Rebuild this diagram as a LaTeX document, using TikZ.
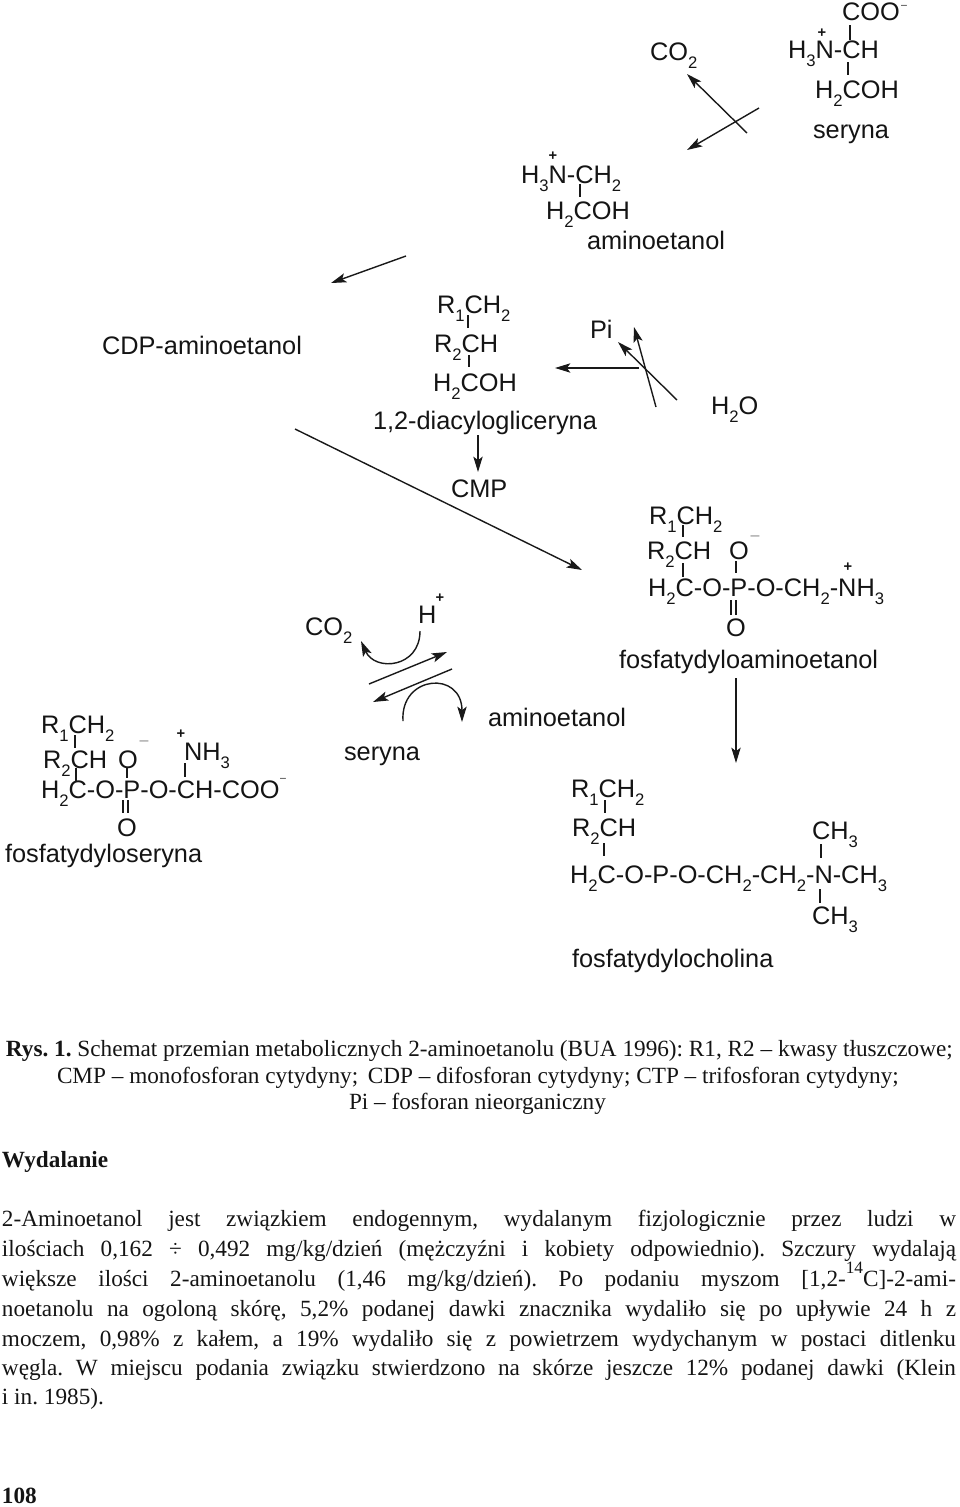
\documentclass[tikz,border=0pt]{standalone}
\usepackage{fontspec}
\setmainfont{Liberation Serif}
\newfontfamily\chemfont{Liberation Sans}
\usetikzlibrary{arrows.meta}
\newcommand{\sbb}[1]{\raisebox{-6.3pt}{\fontsize{12.5}{14}\selectfont #1}}
\newcommand{\sups}[1]{\raisebox{0.55em}{\fontsize{13}{14}\selectfont #1}}
\newcommand{\fullw}[1]{\makebox[715.5pt][s]{#1}}
\frenchspacing
\tikzset{
  x=0.75pt,y=-0.75pt,
  chem/.style={anchor=base west,inner sep=0pt,outer sep=0pt,text=black!92,font=\chemfont\fontsize{19}{22}\selectfont},
  body/.style={anchor=base west,inner sep=0pt,outer sep=0pt,text=black!92,font=\fontsize{17.42}{20}\selectfont},
  bodyb/.style={body,font=\fontsize{17.42}{20}\selectfont\bfseries},
  plus/.style={inner sep=0pt,outer sep=0pt,text=black!92,font=\chemfont\fontsize{11}{12}\selectfont\bfseries},
  minus/.style={inner sep=0pt,outer sep=0pt,text=black!85,font=\chemfont\fontsize{8}{9}\selectfont},
  minusg/.style={inner sep=0pt,outer sep=0pt,text=black!45,font=\chemfont\fontsize{12}{12}\selectfont},
  bond/.style={draw=black!90,line width=1pt},
  arr/.style={draw=black!90,line width=1.05pt,-{Stealth[length=11.5pt,width=7pt,inset=2.6pt]}},
}
\newcommand{\bnd}[5]{\coordinate (#1a) at (#2,#3);\coordinate (#1b) at (#4,#5);\draw[bond] (#1a) -- (#1b);}
\newcommand{\arw}[5]{\coordinate (#1a) at (#2,#3);\coordinate (#1b) at (#4,#5);\draw[arr] (#1a) -- (#1b);}
\begin{document}
\begin{tikzpicture}
\useasboundingbox (0,0) rectangle (960,1507);
% seryna top
\node[chem] (sCOO) at (842,20) {COO};
\node[minus] (sCOOm) at (904,7) {–};
\node[plus] (sPlus) at (822,33) {+};
\node[chem] (sNCH) at (788,58) {H\sbb{3}N-CH};
\node[chem] (sCOH) at (815,98) {H\sbb{2}COH};
\node[chem] (sName) at (813,138) {seryna};
\node[chem] (co2a) at (650,60) {CO\sbb{2}};
\bnd{sb1}{850}{25}{850}{40}
\bnd{sb2}{848}{62}{848}{75}
\arw{a1}{747}{133}{687}{74}
\arw{a2}{759}{108}{687}{150}
% aminoetanol top
\node[plus] (aPlus) at (553,156) {+};
\node[chem] (aNCH) at (521,183) {H\sbb{3}N-CH\sbb{2}};
\node[chem] (aCOH) at (546,219) {H\sbb{2}COH};
\node[chem] (aName) at (587,249) {aminoetanol};
\bnd{ab1}{580}{184}{580}{197}
\arw{a3}{406}{256}{331}{283}
\node[chem] (cdp) at (102,354) {CDP-aminoetanol};
% diacylogliceryna
\node[chem] (dR1) at (437,313) {R\sbb{1}CH\sbb{2}};
\node[chem] (dR2) at (434,352) {R\sbb{2}CH};
\node[chem] (dH2) at (433,391) {H\sbb{2}COH};
\node[chem] (dName) at (373,429) {1,2-diacylogliceryna};
\bnd{db1}{468}{315}{468}{328}
\bnd{db2}{469}{355}{469}{367}
\arw{a4}{478}{435}{478}{472}
\node[chem] (cmp) at (451,497) {CMP};
\node[chem] (pi) at (590,338) {Pi};
\node[chem] (h2o) at (711,414) {H\sbb{2}O};
\arw{a5}{639}{368}{555}{368}
\arw{a6}{656}{407}{634}{327}
\arw{a7}{677}{400}{618}{342}
\arw{a8}{295}{429}{582}{570}
% fosfatydyloaminoetanol
\node[chem] (fR1) at (649,524) {R\sbb{1}CH\sbb{2}};
\node[chem] (fR2) at (647,559) {R\sbb{2}CH};
\node[chem] (fO) at (729,559) {O};
\node[minusg] (fOm) at (755,538) {–};
\node[plus] (fPlus) at (848,567) {+};
\node[chem] (fMain) at (648,596) {H\sbb{2}C-O-P-O-CH\sbb{2}-NH\sbb{3}};
\node[chem] (fO2) at (726,636) {O};
\node[chem] (fName) at (619,668) {fosfatydyloaminoetanol};
\bnd{fb1}{683}{525}{683}{537}
\bnd{fb2}{683}{563}{683}{577}
\bnd{fb3}{736}{561}{736}{573}
\bnd{fb4}{731}{600}{731}{615}
\bnd{fb5}{736}{600}{736}{615}
\arw{a9}{736}{678}{736}{763}
% fosfatydyloseryna
\node[chem] (pR1) at (41,733) {R\sbb{1}CH\sbb{2}};
\node[chem] (pR2) at (43,768) {R\sbb{2}CH};
\node[chem] (pO) at (118,768) {O};
\node[minusg] (pOm) at (144,743) {–};
\node[plus] (pPlus) at (181,734) {+};
\node[chem] (pNH) at (184,760) {NH\sbb{3}};
\node[chem] (pMain) at (41,798) {H\sbb{2}C-O-P-O-CH-COO};
\node[minus] (pm) at (283,780) {–};
\node[chem] (pO2) at (117,836) {O};
\node[chem] (pName) at (5,862) {fosfatydyloseryna};
\bnd{pb1}{75}{735}{75}{748}
\bnd{pb2}{76}{768}{76}{782}
\bnd{pb3}{127}{767}{127}{778}
\bnd{pb4}{185}{763}{185}{777}
\bnd{pb5}{123}{800}{123}{813}
\bnd{pb6}{128}{800}{128}{813}
% middle
\node[chem] (co2b) at (305,635) {CO\sbb{2}};
\node[chem] (hp) at (418,623) {H};
\node[plus] (hpp) at (440,598) {+};
\node[chem] (serb) at (344,760) {seryna};
\node[chem] (amib) at (488,726) {aminoetanol};
\arw{a10}{369}{684}{447}{652}
\arw{a11}{452}{669}{373}{702}
\coordinate (c1a) at (420,631);
\coordinate (c1b) at (361,641);
\draw[arr] (c1a) .. controls (420,668) and (375,672) .. (c1b);
\coordinate (c2a) at (403,721);
\coordinate (c2b) at (462,722);
\draw[arr] (c2a) .. controls (400,675) and (462,670) .. (c2b);
% fosfatydylocholina
\node[chem] (cR1) at (571,797) {R\sbb{1}CH\sbb{2}};
\node[chem] (cR2) at (572,836) {R\sbb{2}CH};
\node[chem] (cC1) at (812,839) {CH\sbb{3}};
\node[chem] (cMain) at (570,883) {H\sbb{2}C-O-P-O-CH\sbb{2}-CH\sbb{2}-N-CH\sbb{3}};
\node[chem] (cC2) at (812,924) {CH\sbb{3}};
\node[chem] (cName) at (572,967) {fosfatydylocholina};
\bnd{cb1}{605}{800}{605}{813}
\bnd{cb2}{604}{843}{604}{856}
\bnd{cb3}{821}{844}{821}{858}
\bnd{cb4}{820}{889}{820}{903}
% caption
\node[body] (t1) at (6,1056) {\textbf{Rys. 1.} Schemat przemian metabolicznych 2-aminoetanolu (BUA 1996): R1, R2 – kwasy tłuszczowe;};
\node[body] (t2) at (57,1083) {CMP – monofosforan cytydyny;\, CDP – difosforan cytydyny; CTP – trifosforan cytydyny;};
\node[body] (t3) at (349,1109) {Pi – fosforan nieorganiczny};
\node[bodyb] (t4) at (2,1167) {Wydalanie};
\node[body] (p1) at (2,1226) {\fullw{2-Aminoetanol jest związkiem endogennym, wydalanym fizjologicznie przez ludzi w}};
\node[body] (p2) at (2,1256) {\fullw{ilościach 0,162 ÷ 0,492 mg/kg/dzień (mężczyźni i kobiety odpowiednio). Szczury wydalają}};
\node[body] (p3) at (2,1286) {\fullw{większe ilości 2-aminoetanolu (1,46 mg/kg/dzień). Po podaniu myszom [1,2-\sups{14}C]-2-ami-}};
\node[body] (p4) at (2,1316) {\fullw{noetanolu na ogoloną skórę, 5,2\% podanej dawki znacznika wydaliło się po upływie 24 h z}};
\node[body] (p5) at (2,1346) {\fullw{moczem, 0,98\% z kałem, a 19\% wydaliło się z powietrzem wydychanym w postaci ditlenku}};
\node[body] (p6) at (2,1375) {\fullw{węgla. W miejscu podania związku stwierdzono na skórze jeszcze 12\% podanej dawki (Klein}};
\node[body] (p7) at (2,1404) {i in. 1985).};
\node[bodyb] (pg) at (2,1503) {108};
\end{tikzpicture}
\end{document}
